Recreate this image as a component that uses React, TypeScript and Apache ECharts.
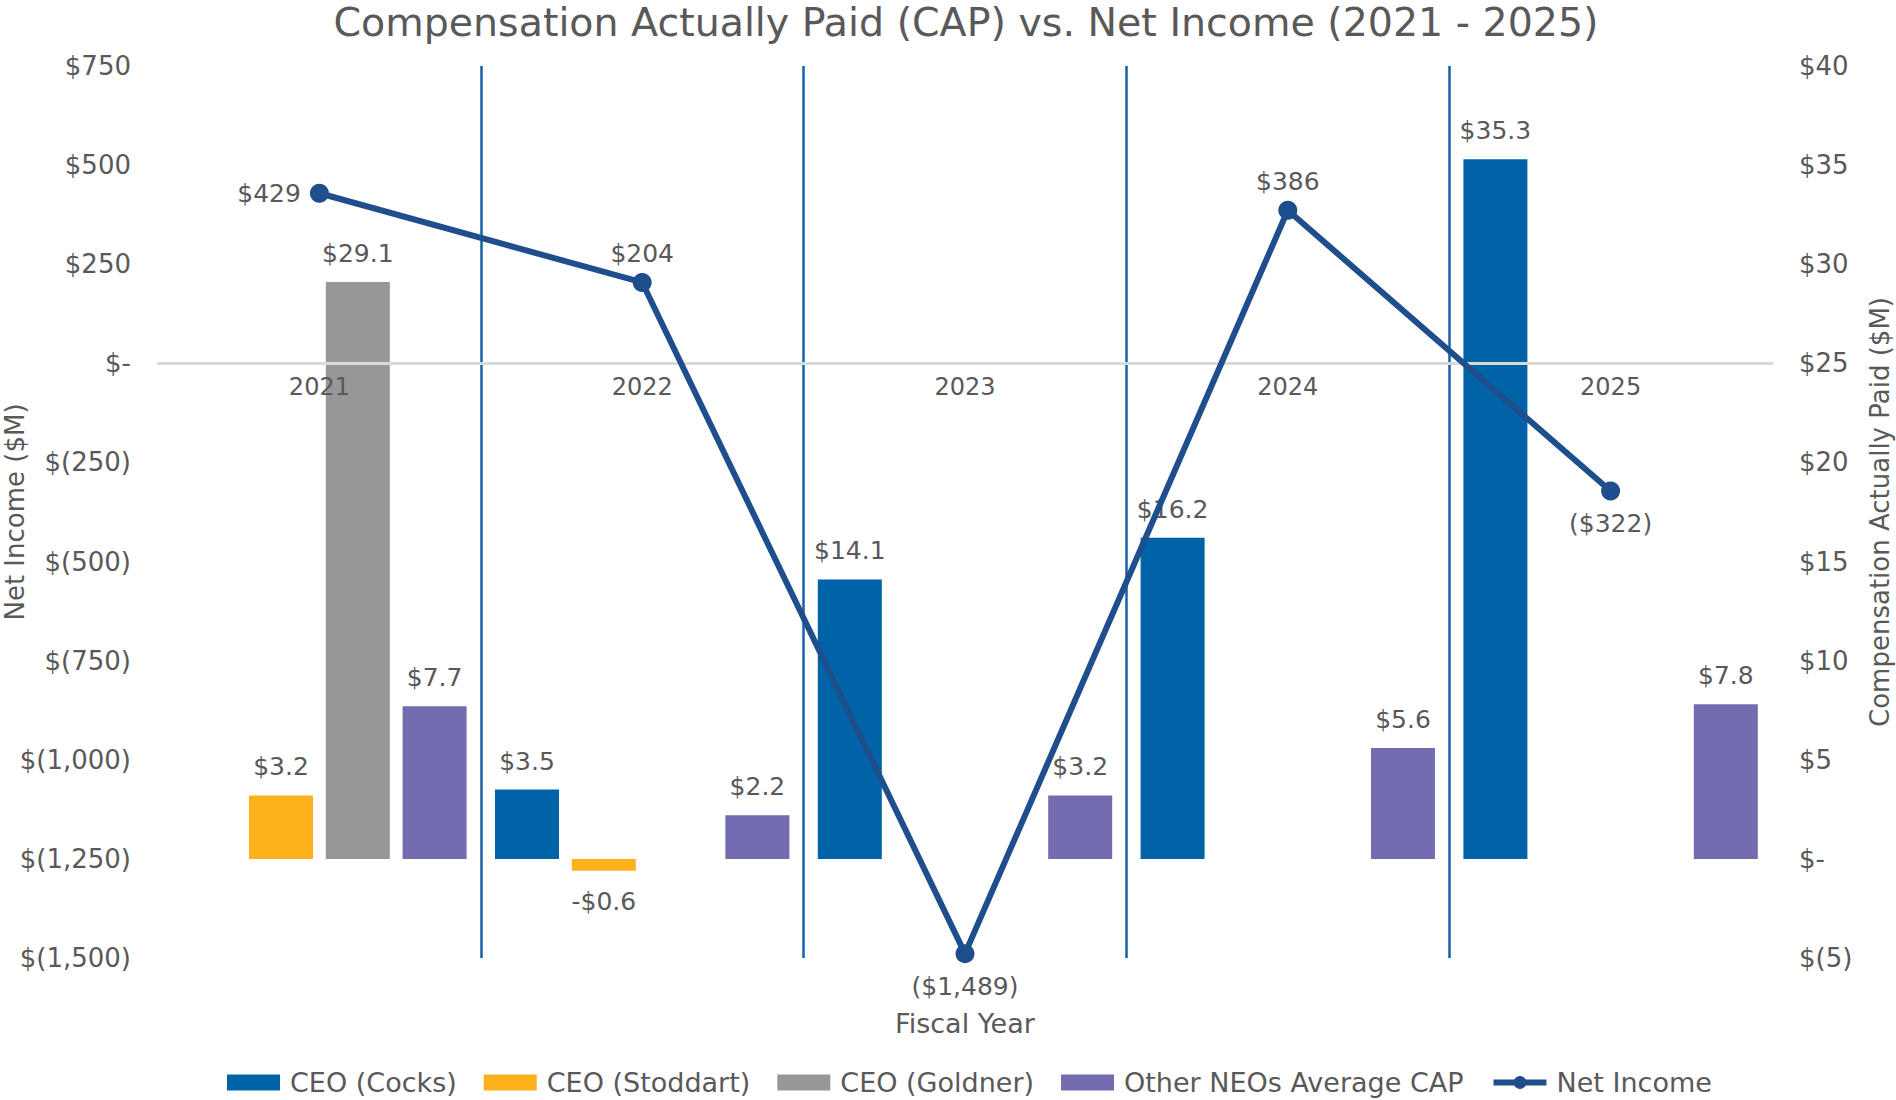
import React, { useEffect, useRef } from "react";
import * as echarts from "echarts";

const years = ["2021", "2022", "2023", "2024", "2025"];
const ceoCocks = [null, 3.5, 14.1, 16.2, 35.3];
const ceoStoddart = [3.2, -0.6, null, null, null];
const ceoGoldner = [29.1, null, null, null, null];
const otherNeos = [7.7, 2.2, 3.2, 5.6, 7.8];
const netIncome = [429, 204, -1489, 386, -322];
const netIncomeLabelPos = ["left", "top", "bottom", "top", "bottom"];
const leftMin = -1500;
const leftMax = 750;

const FONT = "DejaVu Sans";
const TXT = "#595959";

const fmtAxis = (v: number) => {
  if (v === 0) return "$-";
  const s = Math.abs(v).toLocaleString("en-US");
  return v < 0 ? "$(" + s + ")" : "$" + s;
};
const fmtBar = (p: any) => {
  const v = typeof p.value === "object" ? p.value.value : p.value;
  return v < 0 ? "-$" + Math.abs(v).toFixed(1) : "$" + v.toFixed(1);
};
const fmtNet = (p: any) => {
  const v = p.value;
  const s = Math.abs(v).toLocaleString("en-US");
  return v < 0 ? "($" + s + ")" : "$" + s;
};

const W = 1896;
const H = 1100;
const GRID = { left: 158, right: 124, top: 66, bottom: 142 };

export default function App() {
  const ref = useRef<HTMLDivElement>(null);
  useEffect(() => {
    if (!ref.current) return;
    const chart = echarts.init(ref.current, undefined, { renderer: "svg" });
    const gridH = H - GRID.top - GRID.bottom;
    const zeroFromBottom = (gridH * (0 - leftMin)) / (leftMax - leftMin);
    const barLabel = {
      show: true,
      position: "top",
      distance: 16,
      color: TXT,
      fontSize: 25,
      fontFamily: FONT,
      formatter: fmtBar,
    };
    const barCommon = {
      type: "bar",
      yAxisIndex: 1,
      xAxisIndex: 0,
      barWidth: 64,
      barGap: "20%",
      z: 2,
      label: barLabel,
    };
    chart.setOption({
      animation: false,
      textStyle: { fontFamily: FONT, color: TXT },
      title: {
        text: "Compensation Actually Paid (CAP) vs. Net Income (2021 - 2025)",
        left: 966,
        textAlign: "center",
        top: 2,
        padding: 0,
        textStyle: { fontSize: 39.5, fontWeight: "normal", color: TXT, fontFamily: FONT },
      },
      legend: {
        top: 1069,
        left: 227,
        padding: 0,
        itemWidth: 53,
        itemHeight: 16,
        itemGap: 27,
        textStyle: { fontSize: 27, color: TXT, fontFamily: FONT, padding: [0, 0, 0, 5] },
        data: [
          { name: "CEO (Cocks)", icon: "rect" },
          { name: "CEO (Stoddart)", icon: "rect" },
          { name: "CEO (Goldner)", icon: "rect" },
          { name: "Other NEOs Average CAP", icon: "rect" },
          { name: "Net Income", lineStyle: { width: 6 } },
        ],
      },
      grid: { ...GRID, outerBoundsMode: "none", containLabel: false },
      xAxis: [
        {
          type: "category",
          data: years,
          position: "bottom",
          offset: -zeroFromBottom,
          z: 3,
          axisLine: { show: true, onZero: false, lineStyle: { color: "#d9d9d9", width: 3 } },
          axisTick: { show: false },
          axisLabel: { color: TXT, fontSize: 24, fontFamily: FONT, margin: 12 },
          splitLine: {
            show: true,
            showMinLine: false,
            showMaxLine: false,
            lineStyle: { color: "#1360a6", width: 2.5 },
          },
        },
        {
          type: "category",
          data: years,
          position: "bottom",
          axisLine: { show: false, onZero: false },
          axisTick: { show: false },
          axisLabel: { show: false },
          splitLine: { show: false },
          name: "Fiscal Year",
          nameLocation: "middle",
          nameGap: 52,
          nameMoveOverlap: false,
          nameTextStyle: { fontSize: 27, color: TXT, fontFamily: FONT },
        },
      ],
      yAxis: [
        {
          type: "value",
          position: "left",
          min: leftMin,
          max: leftMax,
          interval: 250,
          axisLine: { show: false },
          axisTick: { show: false },
          splitLine: { show: false },
          axisLabel: { color: TXT, fontSize: 26, fontFamily: FONT, margin: 27, formatter: fmtAxis },
          name: "Net Income ($M)",
          nameLocation: "middle",
          nameGap: 130,
          nameMoveOverlap: false,
          nameTextStyle: { fontSize: 26, color: TXT, fontFamily: FONT },
        },
        {
          type: "value",
          position: "right",
          min: -5,
          max: 40,
          interval: 5,
          axisLine: { show: false },
          axisTick: { show: false },
          splitLine: { show: false },
          axisLabel: { color: TXT, fontSize: 26, fontFamily: FONT, margin: 27, formatter: fmtAxis },
          name: "Compensation Actually Paid ($M)",
          nameLocation: "middle",
          nameGap: 95,
          nameMoveOverlap: false,
          nameTextStyle: { fontSize: 26, color: TXT, fontFamily: FONT },
        },
      ],
      series: [
        { ...barCommon, name: "CEO (Cocks)", data: ceoCocks, itemStyle: { color: "#0063A8" } },
        {
          ...barCommon,
          name: "CEO (Stoddart)",
          data: ceoStoddart.map((v) =>
            v !== null && v < 0 ? { value: v, label: { position: "bottom", distance: 18 } } : v
          ),
          itemStyle: { color: "#FDB11B" },
        },
        { ...barCommon, name: "CEO (Goldner)", data: ceoGoldner, itemStyle: { color: "#979797" } },
        { ...barCommon, name: "Other NEOs Average CAP", data: otherNeos, itemStyle: { color: "#746CB1" } },
        {
          type: "line",
          name: "Net Income",
          xAxisIndex: 0,
          yAxisIndex: 0,
          z: 4,
          symbol: "circle",
          symbolSize: 19,
          lineStyle: { color: "#1F4E8C", width: 6 },
          itemStyle: { color: "#1F4E8C" },
          label: { show: true, color: TXT, fontSize: 25, fontFamily: FONT, formatter: fmtNet, distance: 7 },
          data: netIncome.map((v, i) => {
            const pos = netIncomeLabelPos[i];
            return {
              value: v,
              label: { position: pos, distance: pos === "left" ? 9 : pos === "bottom" ? 11 : 7 },
            };
          }),
        },
      ],
    });
    return () => chart.dispose();
  }, []);
  return (
    <div
      ref={ref}
      style={{ position: "fixed", left: 0, top: 0, width: W, height: H, background: "#fff" }}
    />
  );
}
